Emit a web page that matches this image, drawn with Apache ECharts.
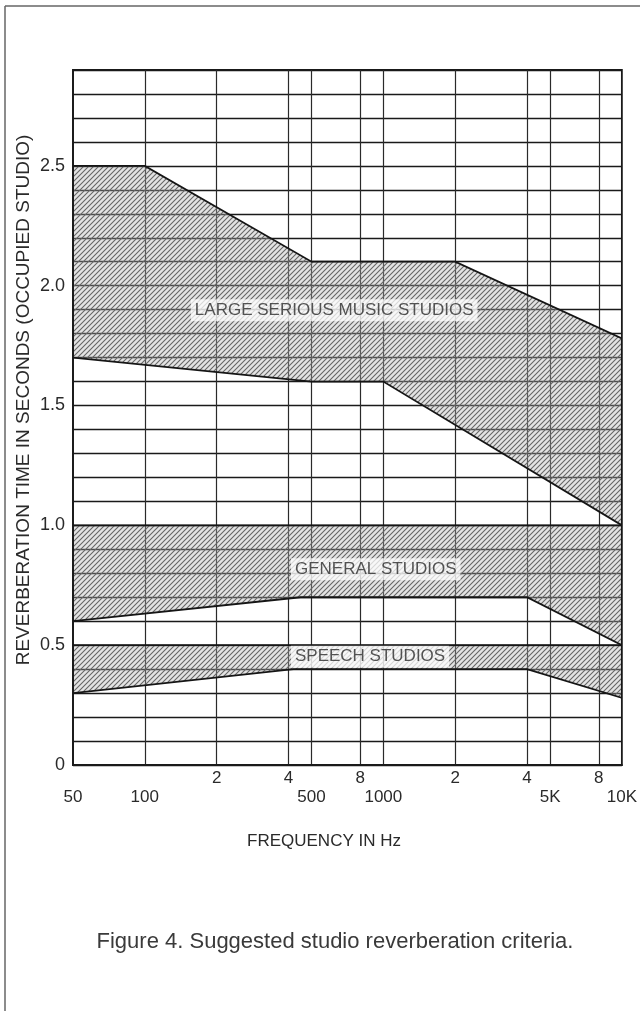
<!DOCTYPE html>
<html><head><meta charset="utf-8">
<script src="https://cdn.jsdelivr.net/npm/echarts@6/dist/echarts.min.js"></script>
<style>html,body{margin:0;padding:0;background:#fff}#c{width:640px;height:1011px}</style>
</head><body><div id="c"></div>
<script>
// ---- data ----
const bandNames = ['LARGE SERIOUS MUSIC STUDIOS', 'GENERAL STUDIOS', 'SPEECH STUDIOS'];
const musicUpper   = [[50, 2.5], [100, 2.5], [500, 2.1], [2000, 2.1], [10000, 1.78]];
const musicLower   = [[50, 1.7], [500, 1.6], [1000, 1.6], [10000, 1.0]];
const generalUpper = [[50, 1.0], [10000, 1.0]];
const generalLower = [[50, 0.6], [450, 0.7], [4000, 0.7], [10000, 0.5]];
const speechUpper  = [[50, 0.5], [10000, 0.5]];
const speechLower  = [[50, 0.3], [420, 0.4], [4000, 0.4], [10000, 0.28]];
const gridFreqs = [100, 200, 400, 500, 800, 1000, 2000, 4000, 5000, 8000];
const upperTickValues = [200, 400, 800, 2000, 4000, 8000];
const upperTickLabels = ['2', '4', '8', '2', '4', '8'];
const lowerTickValues = [50, 100, 500, 1000, 5000, 10000];
const lowerTickLabels = ['50', '100', '500', '1000', '5K', '10K'];
const yLabelValues = [0, 0.5, 1.0, 1.5, 2.0, 2.5];
const yLabelTexts  = ['0', '0.5', '1.0', '1.5', '2.0', '2.5'];
const bandLabelAnchors = [[156, 1.897], [410, 0.817], [410, 0.452]];
const yTitle = 'REVERBERATION TIME IN SECONDS (OCCUPIED STUDIO)';
const xTitle = 'FREQUENCY IN Hz';
const caption = 'Figure 4. Suggested studio reverberation criteria.';

const bands = [
  { upper: musicUpper, lower: musicLower },
  { upper: generalUpper, lower: generalLower },
  { upper: speechUpper, lower: speechLower }
];

function hatchCanvas() {
  const s = 5;
  const c = document.createElement('canvas');
  c.width = s; c.height = s;
  const g = c.getContext('2d');
  g.fillStyle = 'rgba(175,175,175,0.35)';
  g.fillRect(0, 0, s, s);
  g.strokeStyle = '#666';
  g.lineWidth = 1.1;
  g.beginPath();
  g.moveTo(0, s); g.lineTo(s, 0);
  g.moveTo(-1, 1); g.lineTo(1, -1);
  g.moveTo(s - 1, s + 1); g.lineTo(s + 1, s - 1);
  g.stroke();
  return c;
}
const hatch = hatchCanvas();

function lookup(vals, texts, v) {
  for (let i = 0; i < vals.length; i++) {
    if (Math.abs(vals[i] - v) < 1e-6 * Math.max(1, Math.abs(vals[i]))) return texts[i];
  }
  return '';
}

const FONT = '"Liberation Sans", Arial, sans-serif';
const TXT = '#2a2a2a';

const chart = echarts.init(document.getElementById('c'), null, { renderer: 'canvas' });
chart.setOption({
  backgroundColor: '#fff',
  animation: false,
  grid: { left: 73, top: 70, width: 555, height: 695, show: true, borderColor: '#1a1a1a', borderWidth: 1.8, backgroundColor: 'transparent' },
  xAxis: [
    {
      type: 'log', logBase: 10, min: 50, max: 10000, position: 'bottom',
      axisLine: { show: true, lineStyle: { color: '#1a1a1a', width: 1.8 } },
      axisTick: { show: false, customValues: gridFreqs },
      splitLine: { show: true, lineStyle: { color: '#2a2a2a', width: 1.2 } },
      minorSplitLine: { show: false },
      axisLabel: {
        customValues: upperTickValues, margin: 5,
        color: TXT, fontFamily: FONT, fontSize: 17,
        formatter: v => lookup(upperTickValues, upperTickLabels, v)
      }
    },
    {
      type: 'log', logBase: 10, min: 50, max: 10000, position: 'bottom', gridIndex: 0,
      axisLine: { show: false }, axisTick: { show: false }, splitLine: { show: false },
      axisLabel: {
        customValues: lowerTickValues, margin: 24,
        color: TXT, fontFamily: FONT, fontSize: 17,
        formatter: v => lookup(lowerTickValues, lowerTickLabels, v)
      }
    }
  ],
  yAxis: {
    type: 'value', min: 0, max: 2.9, interval: 0.1,
    axisLine: { show: true, lineStyle: { color: '#1a1a1a', width: 1.8 } },
    axisTick: { show: false },
    splitLine: { show: true, lineStyle: { color: '#1a1a1a', width: 1.4 } },
    axisLabel: {
      margin: 8, color: TXT, fontFamily: FONT, fontSize: 18,
      formatter: v => lookup(yLabelValues, yLabelTexts, v)
    }
  },
  series: [
    {
      type: 'custom', name: 'bands', xAxisIndex: 0, yAxisIndex: 0, clip: true, z: 3,
      data: bands.map(b => b.upper[0]),
      renderItem: (params, api) => {
        const b = bands[params.dataIndex];
        const pts = b.upper.map(p => api.coord(p))
          .concat(b.lower.slice().reverse().map(p => api.coord(p)));
        return {
          type: 'polygon',
          shape: { points: pts },
          style: { fill: { image: hatch, repeat: 'repeat' }, stroke: '#151515', lineWidth: 1.8 }
        };
      }
    },
    {
      type: 'scatter', name: 'labels', xAxisIndex: 0, yAxisIndex: 0, symbolSize: 0, z: 5,
      data: bandLabelAnchors.map((a, i) => ({ value: a, name: bandNames[i] })),
      label: {
        show: true, position: 'right', distance: 0,
        formatter: p => p.name,
        color: TXT, fontFamily: FONT, fontSize: 17,
        backgroundColor: 'rgba(255,255,255,0.92)', padding: [3, 4, 2, 4]
      },
      emphasis: { disabled: true }
    }
  ],
  graphic: [
    { type: 'line', shape: { x1: 5, y1: 6, x2: 640, y2: 6 }, style: { stroke: '#666', lineWidth: 1.5 } },
    { type: 'line', shape: { x1: 5, y1: 6, x2: 5, y2: 1011 }, style: { stroke: '#666', lineWidth: 1.5 } },
    { type: 'text', x: 24, y: 400, rotation: Math.PI / 2,
      style: { text: yTitle, fill: TXT, font: '19px ' + FONT, align: 'center', verticalAlign: 'middle' } },
    { type: 'text', x: 324, y: 841,
      style: { text: xTitle, fill: TXT, font: '17px ' + FONT, align: 'center', verticalAlign: 'middle' } },
    { type: 'text', x: 335, y: 942,
      style: { text: caption, fill: '#3a3a3a', font: '22px ' + FONT, align: 'center', verticalAlign: 'middle' } }
  ]
});
</script>
</body></html>
